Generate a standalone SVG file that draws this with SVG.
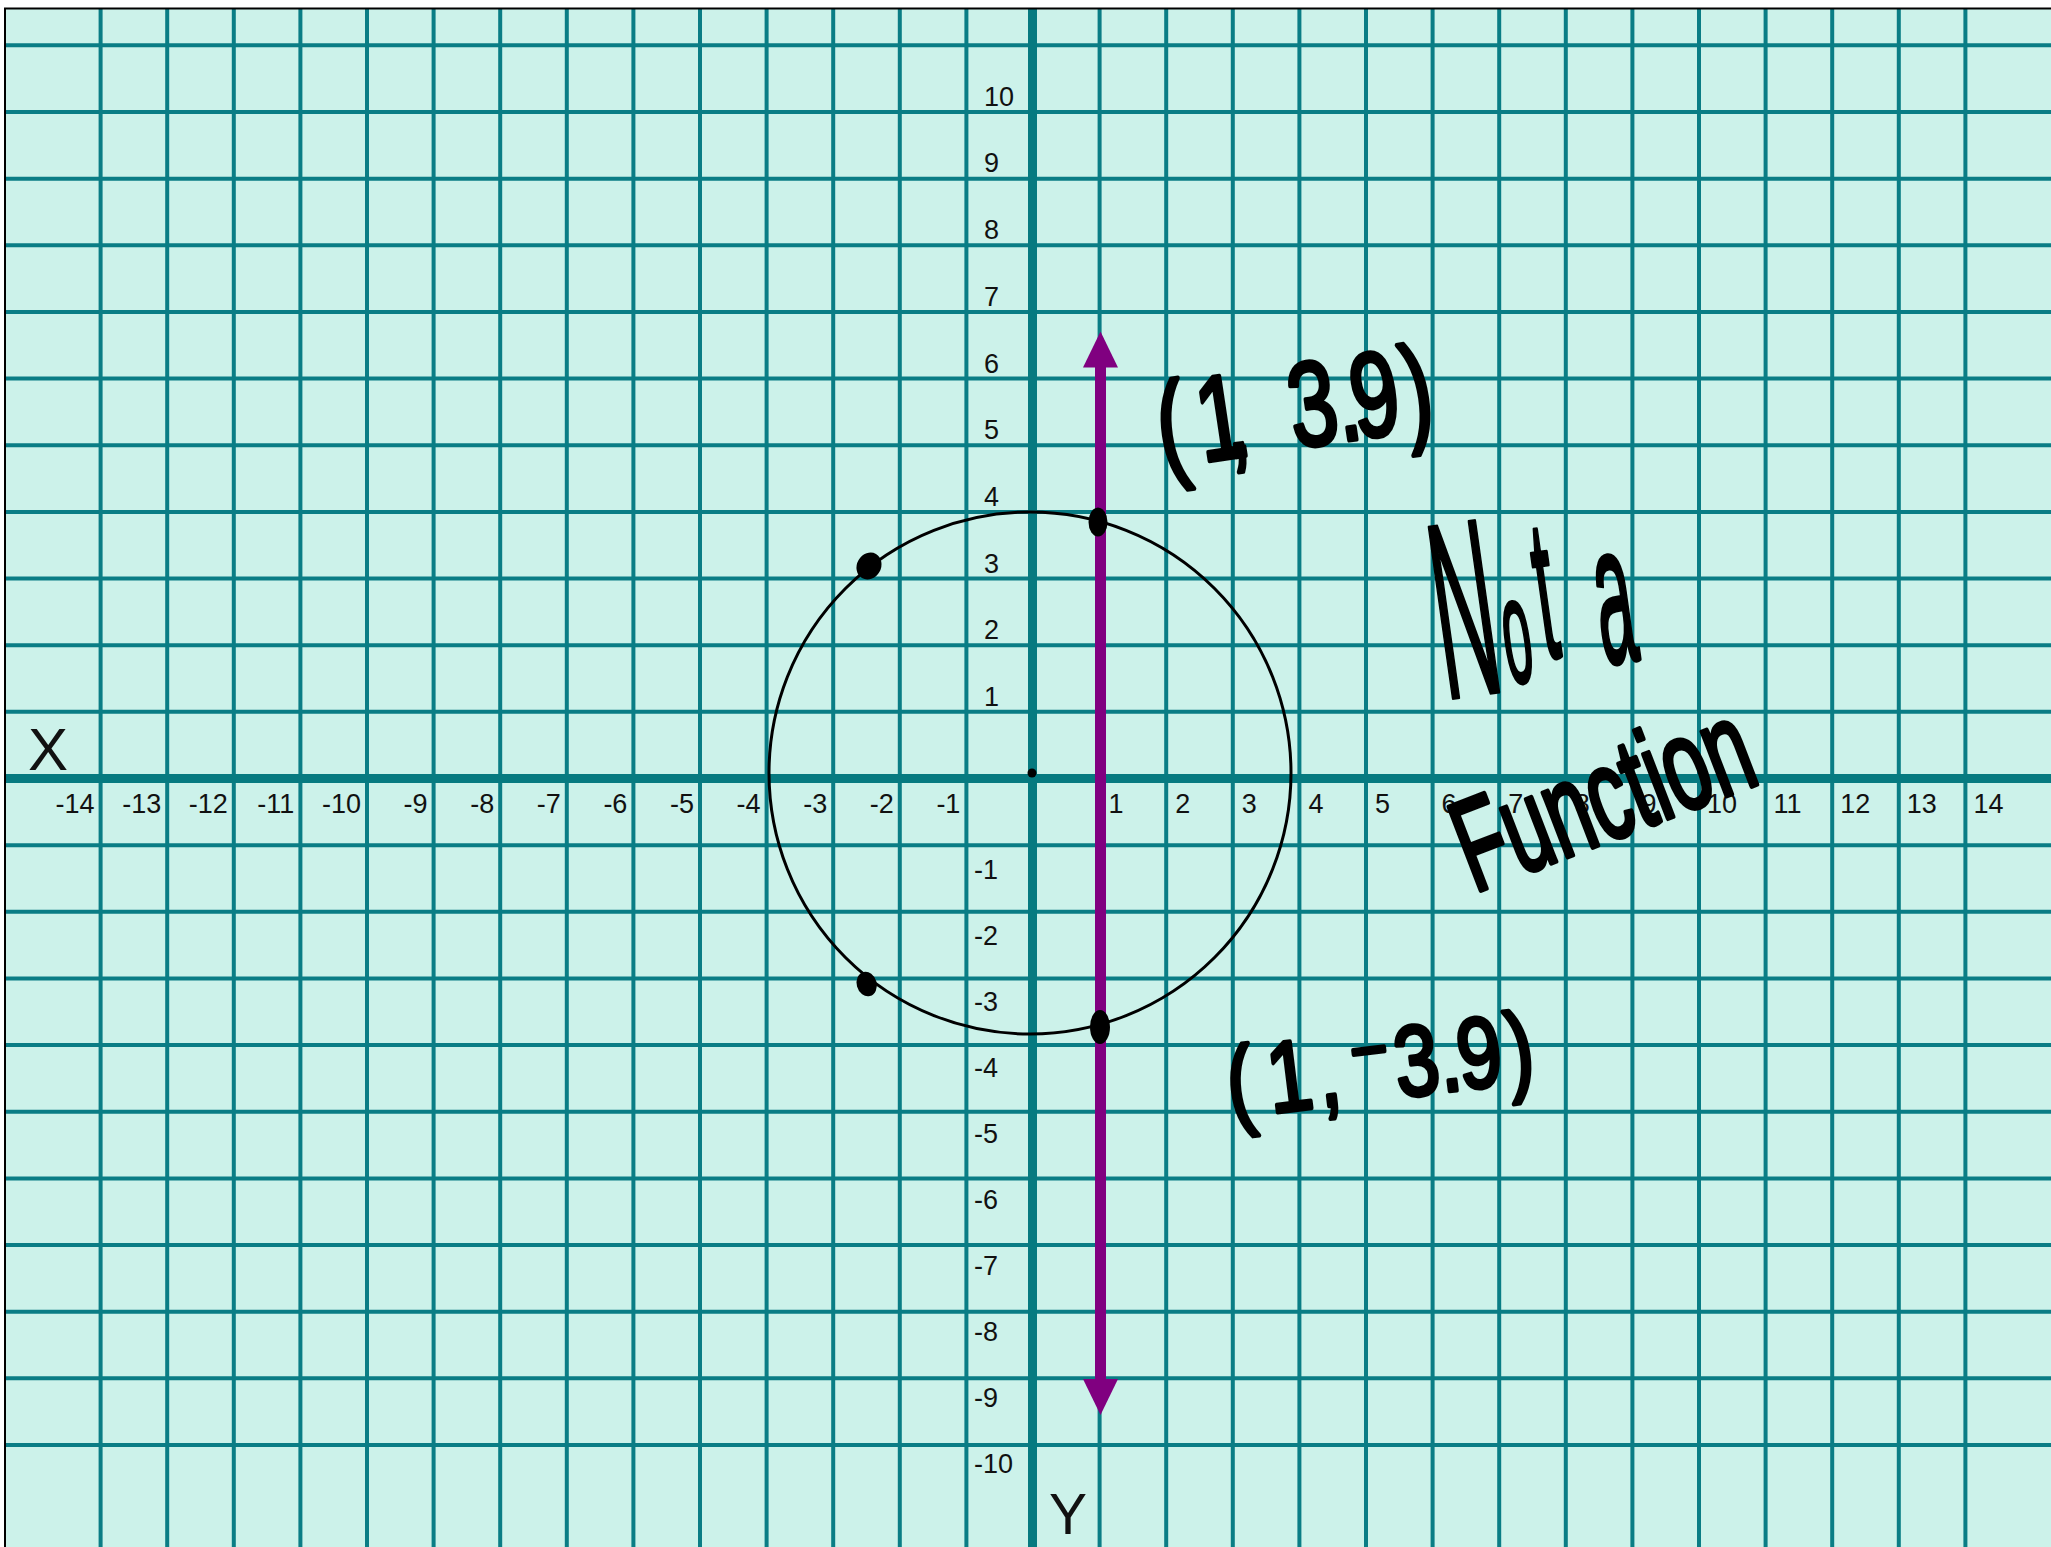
<svg xmlns="http://www.w3.org/2000/svg" width="2051" height="1547" viewBox="0 0 2051 1547">
<defs>
<style>
.grid{fill:none;stroke:#0a7d85;stroke-width:4}
.axis{fill:none;stroke:#067a80;stroke-width:9}
.lbl{font-family:"Liberation Sans",Arial,sans-serif;font-size:27px;fill:#111}
.neg{text-anchor:end}
.big{font-family:"Liberation Sans",Arial,sans-serif;fill:#111}
.hw{font-family:"Liberation Sans","DejaVu Sans",Arial,sans-serif;fill:#000;stroke:#000;stroke-width:4;stroke-linejoin:round;stroke-linecap:round;vector-effect:non-scaling-stroke}
.dot{fill:#000}
</style>
<marker id="arr" markerUnits="userSpaceOnUse" markerWidth="36" markerHeight="36" viewBox="0 0 36 36" refX="24" refY="18" orient="auto-start-reverse">
<path d="M0,0.5 L36,18 L0,35.5 z" fill="#800080"/>
</marker>
</defs>
<rect x="0" y="0" width="2051" height="1547" fill="#ffffff"/>
<rect x="5" y="8" width="2046" height="1539" fill="#ccf2ea"/>

<g id="grid">
<path class="grid" d="M100.6 8V1547M167.2 8V1547M233.8 8V1547M300.4 8V1547M367 8V1547M433.6 8V1547M500.2 8V1547M566.8 8V1547M633.4 8V1547M700 8V1547M766.6 8V1547M833.2 8V1547M899.8 8V1547M966.4 8V1547M1099.6 8V1547M1166.2 8V1547M1232.8 8V1547M1299.4 8V1547M1366 8V1547M1432.6 8V1547M1499.2 8V1547M1565.8 8V1547M1632.4 8V1547M1699 8V1547M1765.6 8V1547M1832.2 8V1547M1898.8 8V1547M1965.4 8V1547"/>
<path class="grid" d="M5 45.35H2051M5 112H2051M5 178.65H2051M5 245.3H2051M5 311.95H2051M5 378.6H2051M5 445.25H2051M5 511.9H2051M5 578.55H2051M5 645.2H2051M5 711.85H2051M5 845.15H2051M5 911.8H2051M5 978.45H2051M5 1045.1H2051M5 1111.75H2051M5 1178.4H2051M5 1245.05H2051M5 1311.7H2051M5 1378.35H2051M5 1445H2051"/>
</g>
<g id="axes">
<path class="axis" d="M5 778.5H2051M1032.5 8V1547"/>
<path d="M4 8.5H2051M5 8V1547" fill="none" stroke="#000" stroke-width="2"/>
</g>

<g id="x-labels" class="lbl">
<text class="neg" x="94.6" y="813">-14</text>
<text class="neg" x="161.2" y="813">-13</text>
<text class="neg" x="227.8" y="813">-12</text>
<text class="neg" x="294.4" y="813">-11</text>
<text class="neg" x="361" y="813">-10</text>
<text class="neg" x="427.6" y="813">-9</text>
<text class="neg" x="494.2" y="813">-8</text>
<text class="neg" x="560.8" y="813">-7</text>
<text class="neg" x="627.4" y="813">-6</text>
<text class="neg" x="694" y="813">-5</text>
<text class="neg" x="760.6" y="813">-4</text>
<text class="neg" x="827.2" y="813">-3</text>
<text class="neg" x="893.8" y="813">-2</text>
<text class="neg" x="960.4" y="813">-1</text>
<text x="1108.6" y="813">1</text>
<text x="1175.2" y="813">2</text>
<text x="1241.8" y="813">3</text>
<text x="1308.4" y="813">4</text>
<text x="1375" y="813">5</text>
<text x="1441.6" y="813">6</text>
<text x="1508.2" y="813">7</text>
<text x="1574.8" y="813">8</text>
<text x="1641.4" y="813">9</text>
<text x="1707" y="813">10</text>
<text x="1773.6" y="813">11</text>
<text x="1840.2" y="813">12</text>
<text x="1906.8" y="813">13</text>
<text x="1973.4" y="813">14</text>
</g>
<g id="y-labels" class="lbl">
<text x="984" y="106">10</text>
<text x="984" y="172">9</text>
<text x="984" y="239">8</text>
<text x="984" y="306">7</text>
<text x="984" y="373">6</text>
<text x="984" y="439">5</text>
<text x="984" y="506">4</text>
<text x="984" y="573">3</text>
<text x="984" y="639">2</text>
<text x="984" y="706">1</text>
<text x="974" y="879">-1</text>
<text x="974" y="945">-2</text>
<text x="974" y="1011">-3</text>
<text x="974" y="1077">-4</text>
<text x="974" y="1143">-5</text>
<text x="974" y="1209">-6</text>
<text x="974" y="1275">-7</text>
<text x="974" y="1341">-8</text>
<text x="974" y="1407">-9</text>
<text x="974" y="1473">-10</text>
</g>
<g id="axis-names" class="big">
<text x="28" y="770" font-size="60">X</text>
<text x="1049" y="1534" font-size="57">Y</text>
</g>

<g id="circle">
<circle cx="1030" cy="773" r="261" fill="none" stroke="#000" stroke-width="3"/>
<circle class="dot" cx="1032" cy="773" r="4.5"/>
</g>

<g id="connectors">
<path d="M1100.5 343.5V1403" fill="none" stroke="#800080" stroke-width="11" marker-start="url(#arr)" marker-end="url(#arr)"/>
</g>

<g id="points">
<ellipse class="dot" cx="1098" cy="522" rx="9.5" ry="14.5"/>
<ellipse class="dot" cx="1100" cy="1027" rx="10" ry="17"/>
<ellipse class="dot" cx="869" cy="566" rx="12" ry="14" transform="rotate(30 869 566)"/>
<ellipse class="dot" cx="866.7" cy="984" rx="10" ry="12.5" transform="rotate(-15 866.7 984)"/>
</g>

<g id="handwriting">
<text class="hw" font-size="120" transform="translate(1163,468) rotate(-8.5) scale(0.72,1)" x="0 56 92 125 185 250 272 345">(1, 3.9)</text>
<text class="hw" font-size="100" transform="translate(1231,1118) rotate(-7) scale(0.8,1)" x="0 51 114 138 155 211 266 290 352">(1, ⁻3.9)</text>
<text class="hw" transform="translate(1452,698) rotate(-8) scale(0.34,1)"><tspan x="-19" y="0" font-size="250">N</tspan><tspan x="172" y="-6" font-size="150">o</tspan><tspan x="285" y="-26" font-size="200">t</tspan><tspan x="370 455" y="-12" font-size="200"> a</tspan></text>
<text class="hw" font-size="130" transform="translate(1474,893) rotate(-21) scale(0.62,1)">Function</text>
</g>
</svg>
